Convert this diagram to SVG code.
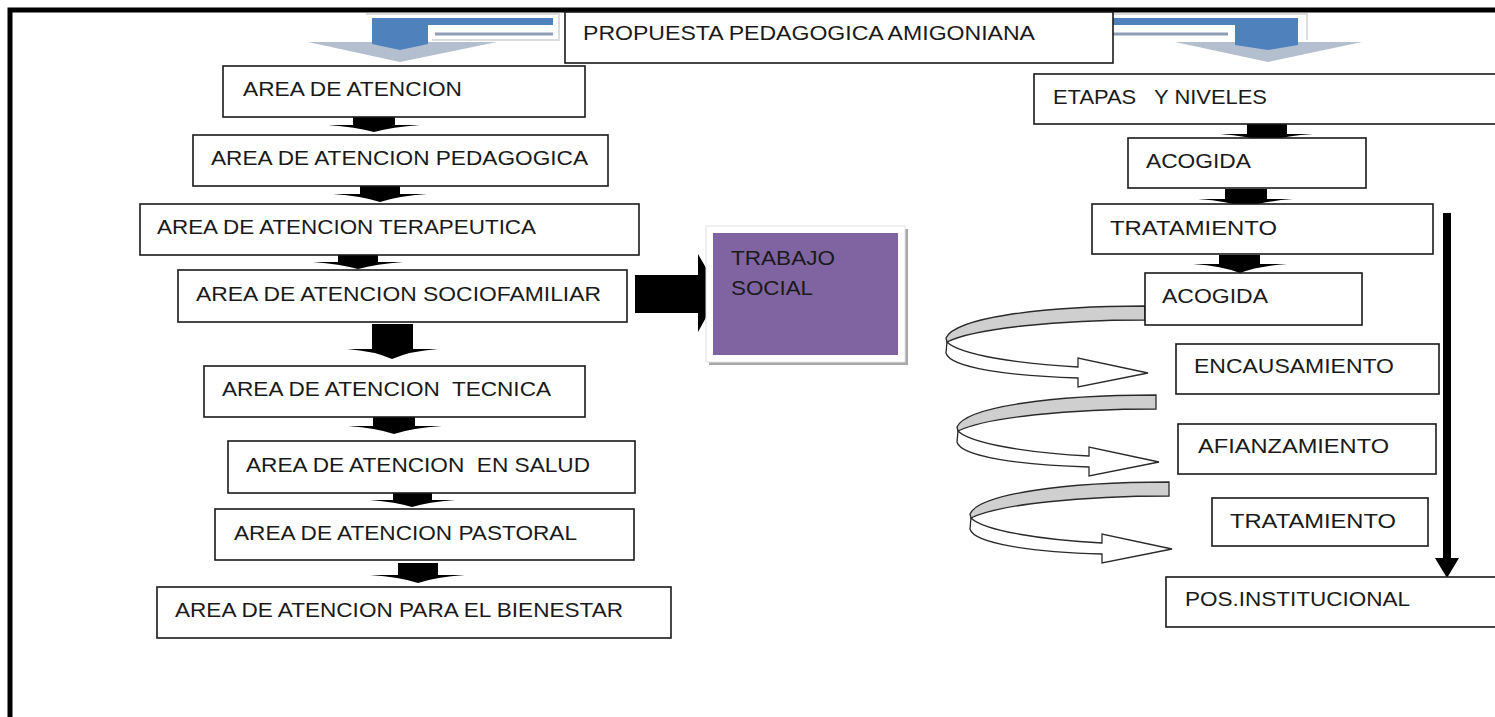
<svg xmlns="http://www.w3.org/2000/svg" width="1495" height="717" viewBox="0 0 1495 717">
<style>
.box{fill:#fff;stroke:#1a1a1a;stroke-width:1.6}
.t{font-family:"Liberation Sans",Arial,sans-serif;font-size:21px;fill:#1a1a1a}
.blk{fill:#000}
.cg{fill:#cfcfcf;stroke:#2a2a2a;stroke-width:1.3}
.cw{fill:#fff;stroke:#2a2a2a;stroke-width:1.3}
.blue{fill:#4f81bd}
.chev{fill:#b3bfcf}
</style>
<defs>
<g id="curl">
<path class="cg" d="M1145,306 C1040,306 955,318 946,338 L947,342 C975,328 1060,320 1145,320 Z"/>
<path class="cw" d="M947,342 C960,355 1020,364 1078,367 L1078,358 L1148,373 L1078,387 L1078,378 C1010,376 950,368 946,353 Z"/>
</g>
</defs>
<rect width="1495" height="717" fill="#fff"/>
<g id="frame">
<path d="M10,717 V10 H1495" fill="none" stroke="#000" stroke-width="5"/>
</g>
<g id="top-arrows">
<path d="M366,14 H559 V40 H432" fill="none" stroke="#dcdcdc" stroke-width="2"/>
<polygon class="chev" points="308,42 497,42 400,62"/>
<polygon class="blue" points="372,18 553,18 553,25 428,25 428,44 400,50 372,44"/>
<line x1="435" y1="34" x2="553" y2="34" stroke="#8c9db5" stroke-width="3"/>
<path d="M1106,14 H1307 V40" fill="none" stroke="#dcdcdc" stroke-width="2"/>
<polygon class="chev" points="1175,42 1362,42 1268,62"/>
<polygon class="blue" points="1112,18 1298,18 1298,45 1268,50 1235,45 1235,25 1112,25"/>
<line x1="1112" y1="34" x2="1228" y2="34" stroke="#8c9db5" stroke-width="3"/>
</g>
<g id="title">
<rect class="box" x="565" y="12" width="548" height="51"/>
<text class="t" x="583" y="40" font-size="20" textLength="452" lengthAdjust="spacingAndGlyphs">PROPUESTA PEDAGOGICA AMIGONIANA</text>
</g>
<g id="connectors">
<path class="blk" d="M353,114 H395 V125 H420 Q392,127 374,132 Q356,127 328,125 H353 Z"/>
<path class="blk" d="M360,183 H400 V194 H427 Q398,196 380,202 Q362,196 333,194 H360 Z"/>
<path class="blk" d="M338,253 H378 V262 H403 Q376,264 358,269 Q340,264 313,262 H338 Z"/>
<path class="blk" d="M372,324 H413 V349 H438 Q410,351 392,359 Q374,351 347,349 H372 Z"/>
<path class="blk" d="M373,415 H415 V426 H442 Q412,428 394,434 Q376,428 348,426 H373 Z"/>
<path class="blk" d="M393,491 H432 V500 H455 Q428,502 412,507 Q396,502 370,500 H393 Z"/>
<path class="blk" d="M398,563 H438 V575 H465 Q436,577 418,583 Q400,577 370,575 H398 Z"/>
<polygon class="blk" points="635,275 698,275 698,254 720,292 698,332 698,313 635,313"/>
<path class="blk" d="M1247,124 H1287 V134 H1313 Q1284,136 1266,142 Q1248,136 1220,134 H1247 Z"/>
<path class="blk" d="M1225,189 H1267 V199 H1293 Q1264,201 1246,208 Q1228,201 1198,199 H1225 Z"/>
<path class="blk" d="M1219,255 H1260 V264 H1287 Q1258,266 1240,273 Q1222,266 1193,264 H1219 Z"/>
<line x1="1447" y1="213" x2="1447" y2="560" stroke="#000" stroke-width="8"/>
<polygon class="blk" points="1435,558 1459,558 1447,578"/>
<use href="#curl"/>
<use href="#curl" transform="translate(11,89)"/>
<use href="#curl" transform="translate(24,176)"/>
</g>
<g id="n1"><rect class="box" x="223" y="66" width="362" height="51"/><text class="t" x="243" y="96" textLength="219" lengthAdjust="spacingAndGlyphs">AREA DE ATENCION</text></g>
<g id="n2"><rect class="box" x="193" y="135" width="415" height="51"/><text class="t" x="211" y="165" textLength="377" lengthAdjust="spacingAndGlyphs">AREA DE ATENCION PEDAGOGICA</text></g>
<g id="n3"><rect class="box" x="140" y="204" width="499" height="51"/><text class="t" x="157" y="234" textLength="379" lengthAdjust="spacingAndGlyphs">AREA DE ATENCION TERAPEUTICA</text></g>
<g id="n4"><rect class="box" x="178" y="270" width="449" height="52"/><text class="t" x="196" y="301" textLength="405" lengthAdjust="spacingAndGlyphs">AREA DE ATENCION SOCIOFAMILIAR</text></g>
<g id="n5"><rect class="box" x="204" y="366" width="381" height="51"/><text class="t" x="222" y="396" xml:space="preserve" textLength="329" lengthAdjust="spacingAndGlyphs">AREA DE ATENCION  TECNICA</text></g>
<g id="n6"><rect class="box" x="228" y="441" width="407" height="52"/><text class="t" x="246" y="472" xml:space="preserve" textLength="344" lengthAdjust="spacingAndGlyphs">AREA DE ATENCION  EN SALUD</text></g>
<g id="n7"><rect class="box" x="215" y="509" width="419" height="51"/><text class="t" x="234" y="540" textLength="343" lengthAdjust="spacingAndGlyphs">AREA DE ATENCION PASTORAL</text></g>
<g id="n8"><rect class="box" x="157" y="587" width="514" height="51"/><text class="t" x="175" y="617" textLength="448" lengthAdjust="spacingAndGlyphs">AREA DE ATENCION PARA EL BIENESTAR</text></g>
<g id="trabajo">
<rect x="709" y="229" width="199" height="136" fill="#a8a8a8"/>
<rect x="706" y="226" width="199" height="136" fill="#fff" stroke="#e2e2e2" stroke-width="1"/>
<rect x="713" y="233" width="185" height="122" fill="#8064a2"/>
<text class="t" x="731" y="265" textLength="104" lengthAdjust="spacingAndGlyphs">TRABAJO</text>
<text class="t" x="731" y="295" textLength="82" lengthAdjust="spacingAndGlyphs">SOCIAL</text>
</g>
<g id="r1"><rect class="box" x="1034" y="74" width="470" height="50"/><text class="t" x="1053" y="104" xml:space="preserve" textLength="214" lengthAdjust="spacingAndGlyphs">ETAPAS   Y NIVELES</text></g>
<g id="r2"><rect class="box" x="1128" y="138" width="238" height="50"/><text class="t" x="1146" y="168" textLength="105" lengthAdjust="spacingAndGlyphs">ACOGIDA</text></g>
<g id="r3"><rect class="box" x="1092" y="204" width="341" height="50"/><text class="t" x="1110" y="235" textLength="167" lengthAdjust="spacingAndGlyphs">TRATAMIENTO</text></g>
<g id="r4"><rect class="box" x="1145" y="273" width="217" height="52"/><text class="t" x="1162" y="303" textLength="106" lengthAdjust="spacingAndGlyphs">ACOGIDA</text></g>
<g id="r5"><rect class="box" x="1176" y="344" width="263" height="50"/><text class="t" x="1194" y="373" textLength="200" lengthAdjust="spacingAndGlyphs">ENCAUSAMIENTO</text></g>
<g id="r6"><rect class="box" x="1178" y="424" width="258" height="50"/><text class="t" x="1198" y="453" textLength="191" lengthAdjust="spacingAndGlyphs">AFIANZAMIENTO</text></g>
<g id="r7"><rect class="box" x="1212" y="498" width="216" height="48"/><text class="t" x="1230" y="528" textLength="166" lengthAdjust="spacingAndGlyphs">TRATAMIENTO</text></g>
<g id="r8"><rect class="box" x="1166" y="577" width="338" height="50"/><text class="t" x="1185" y="606" textLength="225" lengthAdjust="spacingAndGlyphs">POS.INSTITUCIONAL</text></g>
</svg>
